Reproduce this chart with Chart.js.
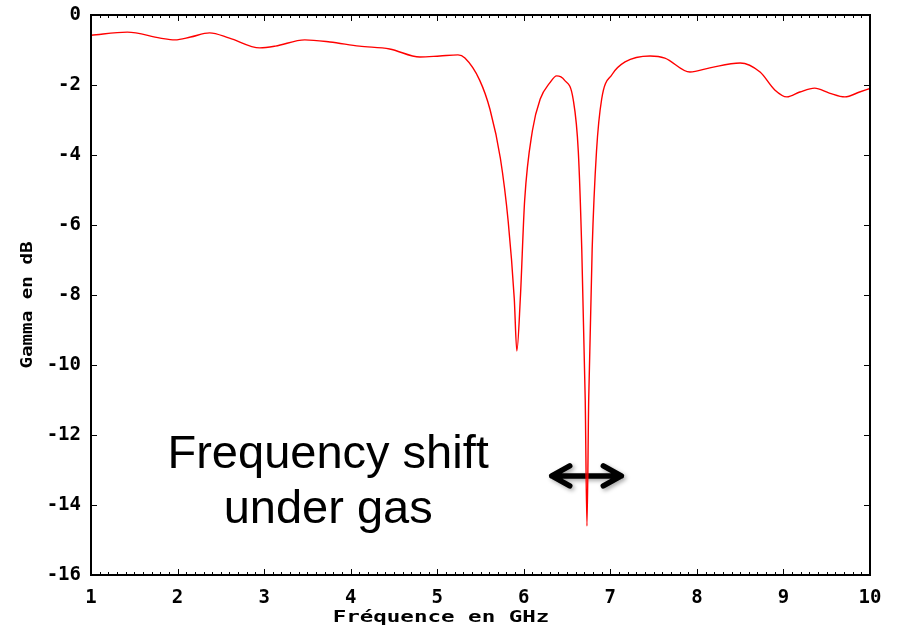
<!DOCTYPE html>
<html>
<head>
<meta charset="utf-8">
<script src="https://cdn.jsdelivr.net/npm/chart.js@4/dist/chart.umd.min.js"></script>
<style>
  html, body { margin: 0; padding: 0; background: #fff; }
  #wrap { width: 905px; height: 636px; }
</style>
</head>
<body>
<div id="wrap"><canvas id="c"></canvas></div>
<script>
// frequency in GHz
const freq = [1.0, 1.42, 1.8, 1.97, 2.15, 2.37, 2.6, 2.95, 3.13, 3.47, 3.76, 4.1, 4.45, 4.8, 5.03, 5.24, 5.32,
  5.49, 5.61, 5.73, 5.82, 5.89, 5.92, 5.96, 6.01, 6.1, 6.19, 6.3, 6.38, 6.47, 6.57, 6.63, 6.67, 6.71, 6.73,
  6.75, 6.79, 6.84, 6.9, 7.02, 7.17, 7.46, 7.63, 7.92, 8.15, 8.5, 8.73, 8.9, 9.04, 9.19, 9.36, 9.53, 9.71, 9.88, 10.0];
// gamma in dB
const gamma = [-0.58, -0.49, -0.66, -0.71, -0.63, -0.51, -0.66, -0.94, -0.89, -0.71, -0.77, -0.89, -0.97, -1.2, -1.17, -1.14, -1.23,
  -1.86, -2.7, -4.1, -5.9, -8.1, -9.6, -8.1, -5.3, -3.3, -2.4, -1.94, -1.74, -1.86, -2.4, -3.9, -6.7, -11.0, -14.6,
  -11.0, -6.7, -3.9, -2.4, -1.7, -1.34, -1.17, -1.23, -1.63, -1.51, -1.37, -1.63, -2.14, -2.34, -2.2, -2.09, -2.23, -2.34, -2.2, -2.1];

const xTicks = [1, 2, 3, 4, 5, 6, 7, 8, 9, 10];
const yTicks = [0, -2, -4, -6, -8, -10, -12, -14, -16];

const xTitle = 'Fréquence en GHz';
const yTitle = 'Gamma en dB';
const noteLines = ['Frequency shift', 'under gas'];
const noteAt = { x: 3.74, y: [-12.94, -14.51] };
const arrowFrom = { x: 6.30, y: -13.17 };
const arrowTo = { x: 7.15, y: -13.17 };

const monoFamily = '"DejaVu Sans Mono", monospace';
const gnuFont = { family: monoFamily, size: 19, weight: 'bold' };

// wide bitmap-ish text like gnuplot's
function wideText(ctx, text, x, y, size, stretch, rotate) {
  ctx.save();
  ctx.translate(x, y);
  if (rotate) ctx.rotate(-Math.PI / 2);
  ctx.scale(stretch, 1);
  ctx.font = 'bold ' + size + 'px ' + monoFamily;
  ctx.fillStyle = '#000';
  ctx.textAlign = 'center';
  ctx.textBaseline = 'middle';
  ctx.fillText(text, 0, 0);
  ctx.restore();
}

// the arrow sits under the red trace
const arrowPlugin = {
  id: 'arrow',
  beforeDatasetsDraw(chart) {
    const { ctx, scales } = chart;
    const x1 = scales.x.getPixelForValue(arrowFrom.x), x2 = scales.x.getPixelForValue(arrowTo.x);
    const y0 = scales.y.getPixelForValue(arrowFrom.y);
    ctx.save();
    ctx.shadowColor = 'rgba(0,0,0,0.35)';
    ctx.shadowBlur = 4;
    ctx.shadowOffsetX = 2;
    ctx.shadowOffsetY = 2;
    ctx.strokeStyle = '#000';
    ctx.lineWidth = 5.5;
    ctx.lineCap = 'round';
    ctx.lineJoin = 'round';
    ctx.beginPath();
    ctx.moveTo(x1 + 2, y0); ctx.lineTo(x2 - 2, y0);
    ctx.moveTo(x1 + 20, y0 - 10); ctx.lineTo(x1 + 2, y0); ctx.lineTo(x1 + 20, y0 + 10);
    ctx.moveTo(x2 - 20, y0 - 10); ctx.lineTo(x2 - 2, y0); ctx.lineTo(x2 - 20, y0 + 10);
    ctx.stroke();
    ctx.restore();
  }
};

// gnuplot-style box with inward ticks, titles and the text note
const framePlugin = {
  id: 'frame',
  afterDatasetsDraw(chart) {
    const { ctx, chartArea: a, scales } = chart;
    const xs = scales.x, ys = scales.y;
    ctx.save();
    ctx.strokeStyle = '#000';
    ctx.lineWidth = 1;
    ctx.beginPath();
    // minor ticks on x every 0.1
    for (let i = 0; i <= 90; i++) {
      const v = 1 + i / 10;
      const px = Math.round(xs.getPixelForValue(v)) + 0.5;
      const len = (i % 10 === 0) ? 6 : 3;
      ctx.moveTo(px, a.bottom); ctx.lineTo(px, a.bottom - len);
      ctx.moveTo(px, a.top); ctx.lineTo(px, a.top + len);
    }
    yTicks.forEach(v => {
      const py = Math.round(ys.getPixelForValue(v)) + 0.5;
      ctx.moveTo(a.left, py); ctx.lineTo(a.left + 6, py);
      ctx.moveTo(a.right, py); ctx.lineTo(a.right - 6, py);
    });
    ctx.stroke();
    ctx.lineWidth = 2;
    ctx.strokeRect(a.left, a.top, a.right - a.left, a.bottom - a.top);
    ctx.restore();

    wideText(ctx, xTitle, 441, 618, 15, 1.5, false);
    wideText(ctx, yTitle, 28, 305, 16, 1.2, true);

    ctx.save();
    ctx.fillStyle = '#000';
    ctx.font = '47px "Liberation Sans", Arial, sans-serif';
    ctx.textAlign = 'center';
    ctx.textBaseline = 'alphabetic';
    noteLines.forEach((t, i) => {
      ctx.fillText(t, xs.getPixelForValue(noteAt.x), ys.getPixelForValue(noteAt.y[i]));
    });
    ctx.restore();
  }
};

new Chart(document.getElementById('c'), {
  type: 'line',
  data: {
    datasets: [{
      data: freq.map((f, i) => ({ x: f, y: gamma[i] })),
      borderColor: '#ff0000',
      borderWidth: 1.4,
      pointRadius: 0,
      cubicInterpolationMode: 'monotone',
      fill: false
    }]
  },
  options: {
    responsive: true,
    maintainAspectRatio: false,
    animation: false,
    layout: { padding: { top: 15, right: 35, left: 0, bottom: 0 } },
    plugins: { legend: { display: false }, tooltip: { enabled: false } },
    scales: {
      x: {
        type: 'linear',
        min: 1, max: 10,
        afterBuildTicks: s => { s.ticks = xTicks.map(v => ({ value: v })); },
        afterFit: s => { s.height = 61; s.paddingLeft = 0; s.paddingRight = 0; },
        grid: { display: false, drawTicks: false },
        border: { display: false },
        ticks: { color: '#000', font: gnuFont, padding: 12, maxRotation: 0 }
      },
      y: {
        type: 'linear',
        min: -16, max: 0,
        afterBuildTicks: s => { s.ticks = yTicks.map(v => ({ value: v })); },
        afterFit: s => { s.width = 91; s.paddingTop = 0; s.paddingBottom = 0; },
        grid: { display: false, drawTicks: false },
        border: { display: false },
        ticks: { color: '#000', font: gnuFont, padding: 10 }
      }
    }
  },
  plugins: [arrowPlugin, framePlugin]
});
</script>
</body>
</html>
